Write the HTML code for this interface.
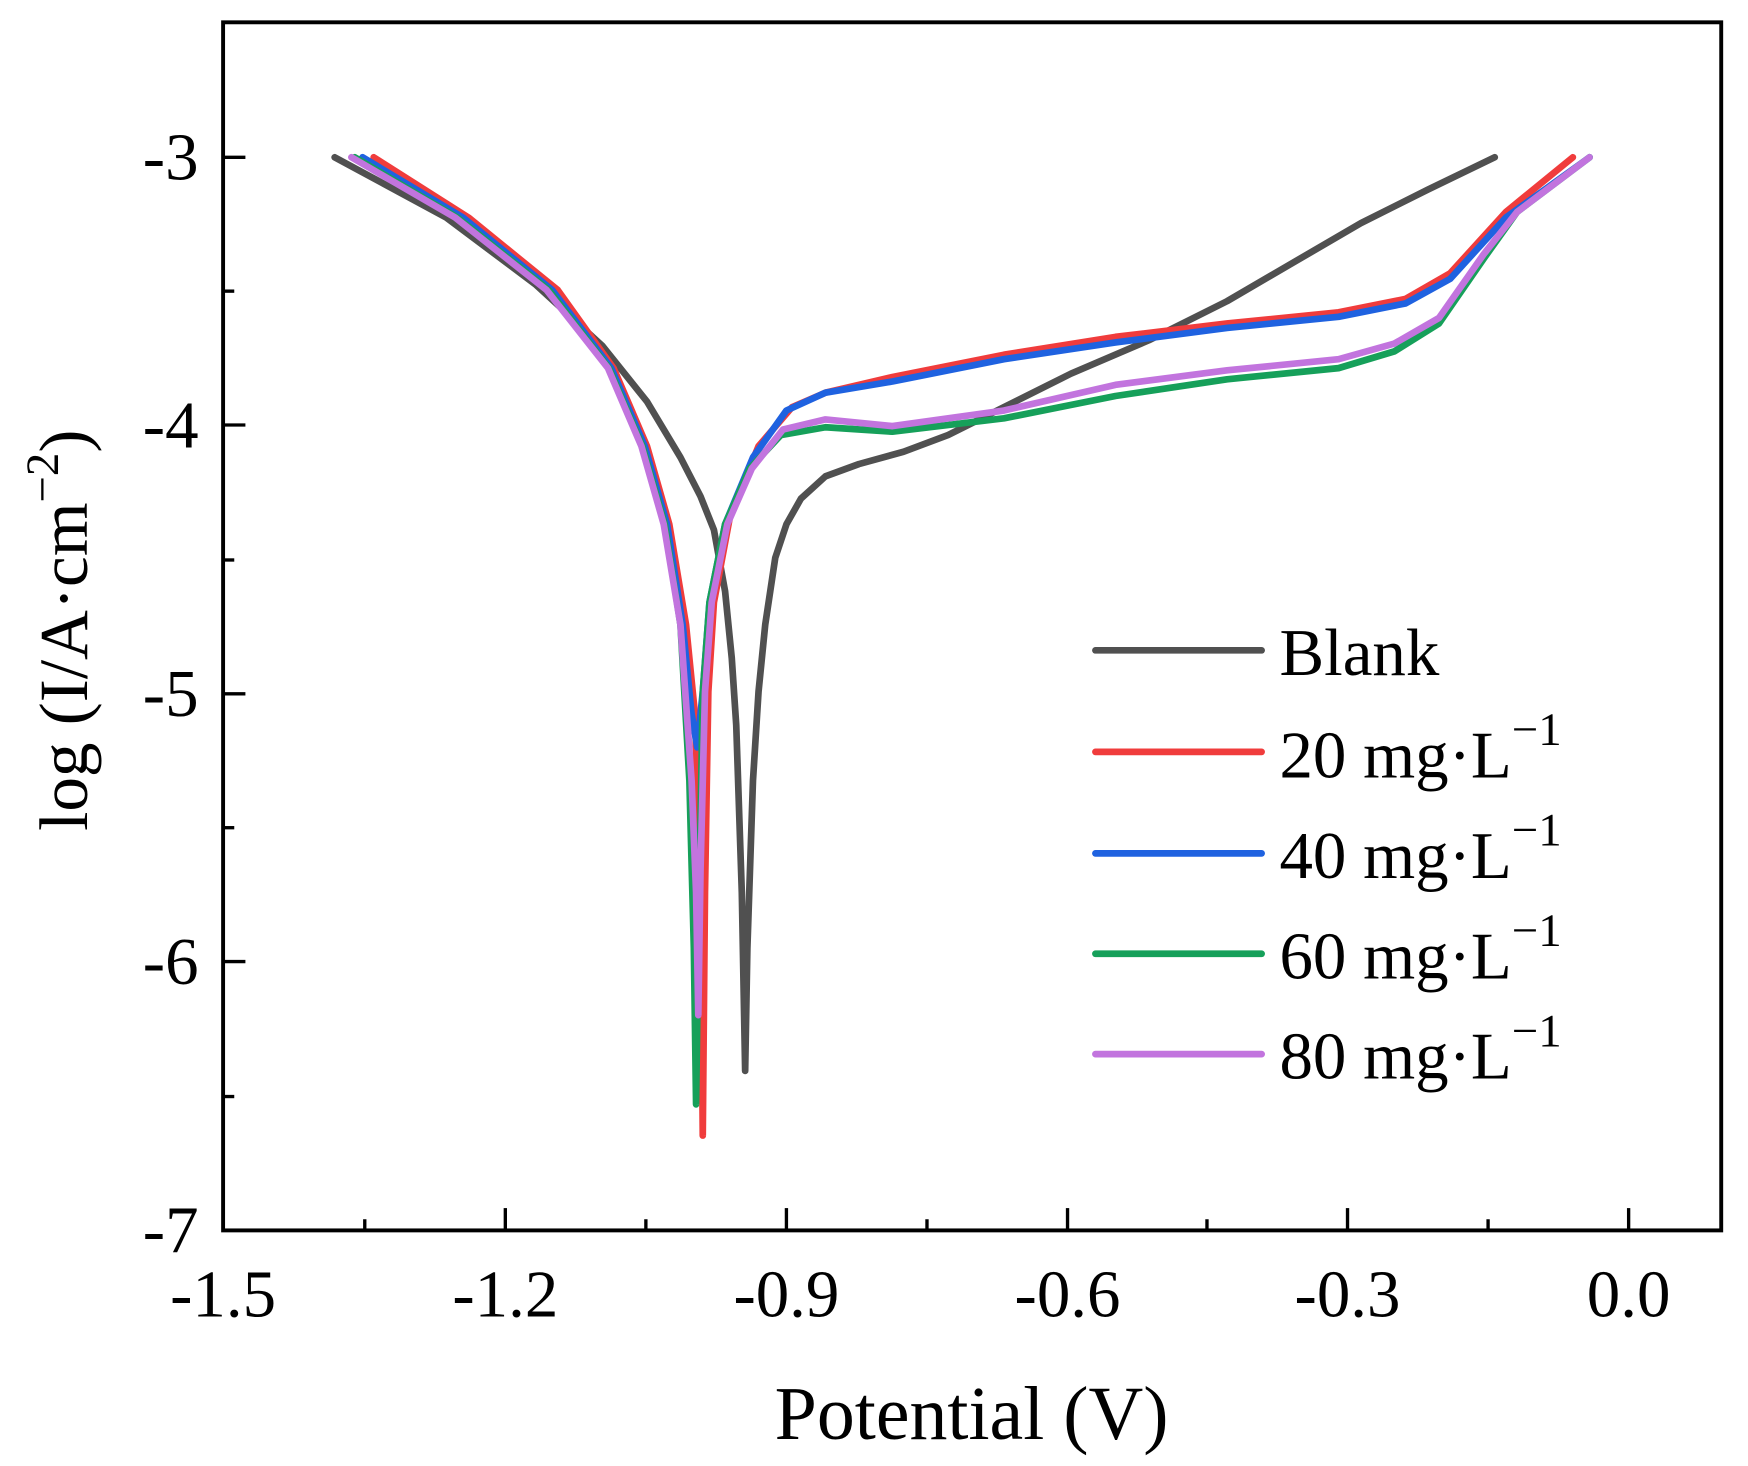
<!DOCTYPE html>
<html><head><meta charset="utf-8"><style>html,body{margin:0;padding:0;background:#fff}svg{display:block}</style></head>
<body>
<svg width="1748" height="1466" viewBox="0 0 1748 1466" xmlns="http://www.w3.org/2000/svg">
<g transform="scale(1.1155)" font-family="Liberation Serif, serif" fill="#000">
<rect x="200" y="20" width="1343" height="1083" fill="none" stroke="#000" stroke-width="3.5"/>
<g stroke="#000" stroke-width="3">
<line x1="200" y1="141" x2="220" y2="141"/><line x1="200" y1="261" x2="210" y2="261"/>
<line x1="200" y1="381" x2="220" y2="381"/><line x1="200" y1="502" x2="210" y2="502"/>
<line x1="200" y1="622" x2="220" y2="622"/><line x1="200" y1="742" x2="210" y2="742"/>
<line x1="200" y1="862" x2="220" y2="862"/><line x1="200" y1="983" x2="210" y2="983"/>
<line x1="453" y1="1103" x2="453" y2="1083"/><line x1="705" y1="1103" x2="705" y2="1083"/>
<line x1="957" y1="1103" x2="957" y2="1083"/><line x1="1208" y1="1103" x2="1208" y2="1083"/>
<line x1="1460" y1="1103" x2="1460" y2="1083"/>
<line x1="327" y1="1103" x2="327" y2="1093"/><line x1="579" y1="1103" x2="579" y2="1093"/>
<line x1="831" y1="1103" x2="831" y2="1093"/><line x1="1082" y1="1103" x2="1082" y2="1093"/>
<line x1="1334" y1="1103" x2="1334" y2="1093"/>
</g>
<g font-size="60" text-anchor="end">
<text x="178" y="161">-3</text><text x="178" y="401">-4</text><text x="178" y="642">-5</text>
<text x="178" y="882">-6</text><text x="178" y="1123">-7</text>
</g>
<g font-size="60" text-anchor="middle">
<text x="200" y="1180">-1.5</text><text x="453" y="1180">-1.2</text><text x="705" y="1180">-0.9</text>
<text x="957" y="1180">-0.6</text><text x="1208" y="1180">-0.3</text><text x="1460" y="1180">0.0</text>
</g>
<text x="871" y="1290" font-size="68" text-anchor="middle">Potential (V)</text>
<text transform="translate(78,565) rotate(-90)" font-size="62" text-anchor="middle">log (I/A·cm<tspan dy="-26" font-size="42">−2</tspan><tspan dy="26">)</tspan></text>
<g fill="none" stroke-width="6" stroke-linejoin="round" stroke-linecap="round">
<polyline stroke="#505050" points="300,141 400,195 480,255 540,310 580,360 610,410 628,445 640,475 650,530 656,590 660,650 665,800 668,960 670,850 675,700 680,620 686,560 695,500 705,470 718,447 740,427 770,416 810,405 850,390 900,365 960,335 1030,305 1100,270 1160,235 1220,200 1280,170 1340,141"/>
<polyline stroke="#f03c3c" points="335,141 420,195 500,260 550,330 580,400 600,470 615,560 623,640 628,800 630,1018 632,800 635,620 640,540 655,460 680,400 710,365 740,352 800,338 900,318 1000,302 1100,290 1200,280 1260,268 1300,245 1350,190 1410,141"/>
<polyline stroke="#1f62e0" points="325,141 415,195 495,260 548,330 578,400 598,470 612,560 620,640 625,670 630,620 636,540 650,470 675,410 705,368 740,352 800,342 900,322 1000,307 1100,294 1200,284 1260,272 1300,250 1350,195 1425,141"/>
<polyline stroke="#16a05a" points="318,141 410,195 492,260 546,330 576,400 596,470 610,560 618,700 622,850 624,990 626,850 630,620 636,540 650,470 672,420 700,390 740,383 800,387 900,375 1000,355 1100,340 1200,330 1250,315 1290,290 1330,232 1360,190 1425,141"/>
<polyline stroke="#c274de" points="315,141 408,195 490,260 545,330 575,400 595,470 610,560 620,700 624,800 626,910 628,780 632,620 638,540 652,470 674,420 702,385 740,376 800,382 900,368 1000,345 1100,332 1200,322 1250,308 1290,285 1330,228 1360,190 1425,141"/>
</g>
<g stroke-width="6" stroke-linecap="round">
<line x1="982" y1="583" x2="1131" y2="583" stroke="#505050"/>
<line x1="982" y1="674" x2="1131" y2="674" stroke="#f03c3c"/>
<line x1="982" y1="765" x2="1131" y2="765" stroke="#1f62e0"/>
<line x1="982" y1="855" x2="1131" y2="855" stroke="#16a05a"/>
<line x1="982" y1="945" x2="1131" y2="945" stroke="#c274de"/>
</g>
<g font-size="60">
<text x="1147" y="605">Blank</text>
<text x="1147" y="697">20 mg·L<tspan dy="-29" font-size="42">−1</tspan></text>
<text x="1147" y="787">40 mg·L<tspan dy="-29" font-size="42">−1</tspan></text>
<text x="1147" y="877">60 mg·L<tspan dy="-29" font-size="42">−1</tspan></text>
<text x="1147" y="967">80 mg·L<tspan dy="-29" font-size="42">−1</tspan></text>
</g>
</g>
</svg>
</body></html>
